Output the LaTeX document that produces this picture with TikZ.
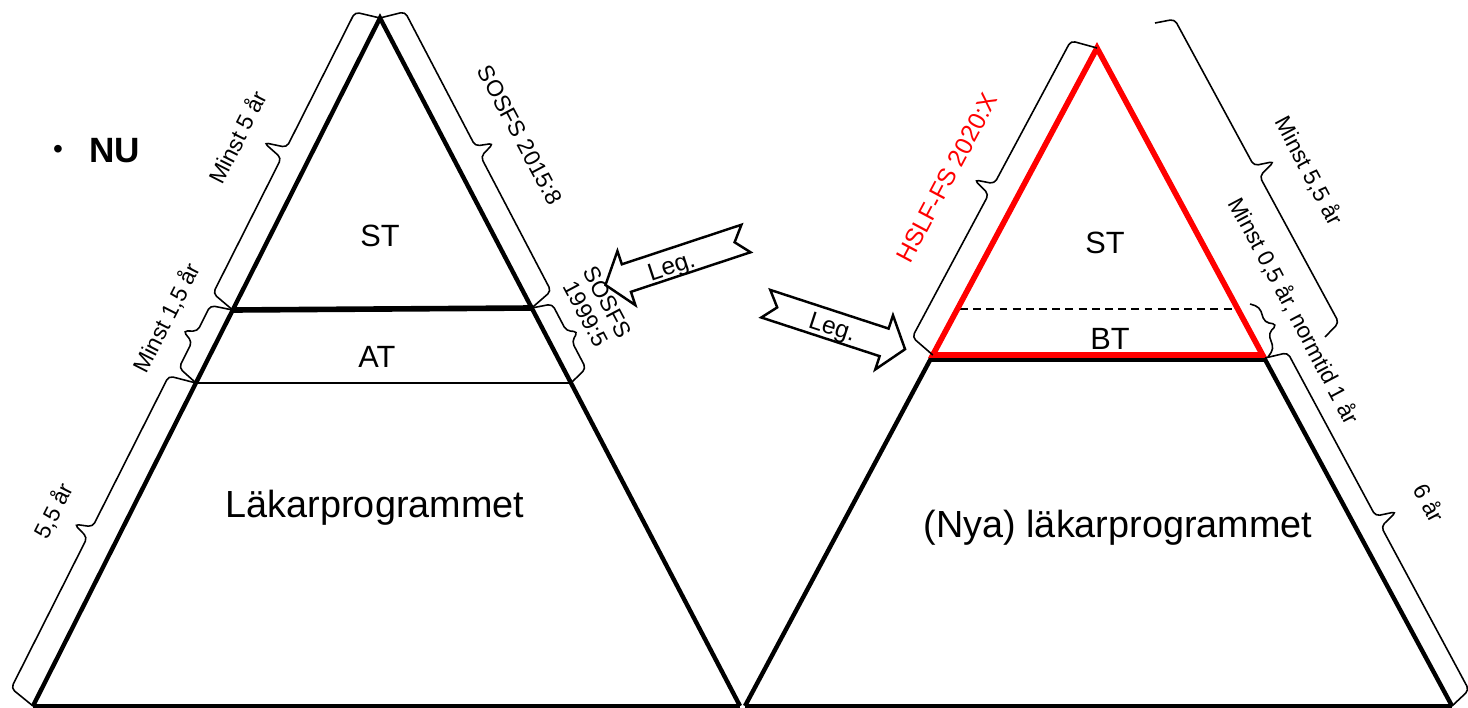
\documentclass[tikz,border=0pt]{standalone}
\usepackage{fontspec}
\setmainfont{Liberation Sans}
\usepackage{tikz}
\usetikzlibrary{calc}

\tikzset{
  edge/.style={line width=2.5pt},
  divider/.style={line width=3.2pt},
  hairline/.style={line width=0.9pt},
  pptbrace/.style 2 args={line width=0.9pt, rounded corners=2.5pt, to path={
    -- ($(\tikztostart)!1.2mm!(\tikztotarget)!#1!90:(\tikztotarget)$)
    -- ($(\tikztostart)!0.5!(\tikztotarget)!-1.2mm!(\tikztotarget)!#1!90:(\tikztotarget)$)
    -- ($(\tikztostart)!0.5!(\tikztotarget)!#2!90:(\tikztotarget)$)
    -- ($(\tikztostart)!0.5!(\tikztotarget)!1.2mm!(\tikztotarget)!#1!90:(\tikztotarget)$)
    -- ($(\tikztotarget)!1.2mm!(\tikztostart)!#1!-90:(\tikztostart)$)
    -- (\tikztotarget)}},
  legarrow/.style={draw, fill=white, line width=1.4pt},
  sidelabel/.style={inner sep=0pt, align=center, font=\fontsize{13}{14}\selectfont},
  midlabel/.style={inner sep=0pt, font=\fontsize{17.5}{20}\selectfont},
  biglabel/.style={inner sep=0pt, font=\fontsize{21.5}{24}\selectfont},
}

\begin{document}
\begin{tikzpicture}[x=0.2mm, y=-0.2mm]
\useasboundingbox (0,0) rectangle (1468,708);

% left pyramid (now)
\coordinate (lapex) at (380,18);
\coordinate (lleft) at (33,706);
\coordinate (lright) at (740,706);
\coordinate (lst1) at (232.7,310);
\coordinate (lst2) at (531.7,308);
\coordinate (lat1) at (196,383);
\coordinate (lat2) at (571,383);

\draw[edge] (lleft) -- (lapex) -- (lright);
\draw[line width=2pt] (lleft) -- (lright);
\draw[divider] (lst1) -- (lst2);
\draw[hairline] (lat1) -- (lat2);

\node[midlabel] (st1) at (380,236) {ST};
\node[midlabel] (at1) at (377,357) {AT};
\node[biglabel] (prog1) at (375,508) {Läkarprogrammet};

\draw[pptbrace={5mm}{9.5mm}] (lst1) to (lapex);
\draw[pptbrace={4.4mm}{7mm}] (lat1) to (lst1);
\draw[pptbrace={5.5mm}{9mm}] (lleft) to (lat1);
\draw[pptbrace={5mm}{8.5mm}] (lapex) to (lst2);
\draw[pptbrace={4mm}{6mm}] (lst2) to (lat2);

\node[sidelabel, rotate=63] (min5) at (237,137) {Minst 5 år};
\node[sidelabel, rotate=63] (min15) at (167,318) {Minst 1,5 år};
\node[sidelabel, rotate=63] (yr55) at (54,511) {5,5 år};
\node[sidelabel, rotate=-62] (sosfs15) at (520,135) {SOSFS 2015:8};
\node[sidelabel, rotate=-62] (sosfs99) at (597,308) {SOSFS\\1999:5};

\node[inner sep=0pt, font=\fontsize{16}{18}\selectfont] (dot) at (58,152) {\textbullet};
\node[inner sep=0pt, font=\fontsize{20}{24}\selectfont\bfseries] (nu) at (115,151) {NU};

% Leg. arrows
\begin{scope}[shift={(746,238.5)}, rotate=-161.7]
\draw[legarrow] (0,-14.5) -- (126,-14.5) -- (126,-28.5) -- (148,0) -- (126,28.5) -- (126,14.5) -- (0,14.5) -- (12,0) -- cycle;
\end{scope}
\node[inner sep=0pt, rotate=18.3, font=\fontsize{14}{16}\selectfont] (leg1) at (672,268) {Leg.};

\begin{scope}[shift={(765.8,303.7)}, rotate=-18.1]
\draw[legarrow] (0,-14.5) -- (124.5,-14.5) -- (124.5,-28.5) -- (146.5,0) -- (124.5,28.5) -- (124.5,14.5) -- (0,14.5) -- (12,0) -- cycle;
\end{scope}
\node[inner sep=0pt, rotate=-18.1, font=\fontsize{14}{16}\selectfont] (leg2) at (832,329) {Leg.};

% right pyramid (new)
\coordinate (rapex) at (1097,48);
\coordinate (rleft) at (745,706);
\coordinate (rright) at (1452,706);
\coordinate (rbt1) at (932.8,355);
\coordinate (rbt2) at (1262.6,355);

\draw[edge] (rleft) -- (rapex) -- (rright);
\draw[line width=2pt] (rleft) -- (rright);
\draw[divider] (931,359) -- (1265,359);
\draw[line width=1.2pt, dash pattern=on 4.5pt off 3pt] (960,309) -- (1238,309);
\draw[divider, red] (rapex) -- (rbt1) -- (rbt2) -- cycle;

\node[midlabel] (st2) at (1105,243) {ST};
\node[midlabel] (bt2) at (1110,339) {BT};
\node[biglabel] (prog2) at (1118,528) {(Nya) läkarprogrammet};

\coordinate (b55a) at (1155,23);
\coordinate (b55b) at (1325,337);
\coordinate (b05a) at (1250,304);
\coordinate (b05b) at (1268,357);

\draw[pptbrace={5.3mm}{9.2mm}] (rbt1) to (rapex);
\draw[pptbrace={3.8mm}{7.8mm}] (b55a) to (b55b);
\draw[pptbrace={1.6mm}{3.8mm}] (b05a) to (b05b);
\draw[pptbrace={4.5mm}{8.6mm}] (1265,358) to (rright);

\node[sidelabel, rotate=62, text=red, font=\fontsize{14}{15}\selectfont] (hslf) at (947,178) {HSLF-FS 2020:X};
\node[sidelabel, rotate=-62] (min55) at (1309,171) {Minst 5,5 år};
\node[sidelabel, rotate=-62] (min05) at (1294,311) {Minst 0,5 år, normtid 1 år};
\node[sidelabel, rotate=-62] (yr6) at (1430,503) {6 år};
\end{tikzpicture}
\end{document}
